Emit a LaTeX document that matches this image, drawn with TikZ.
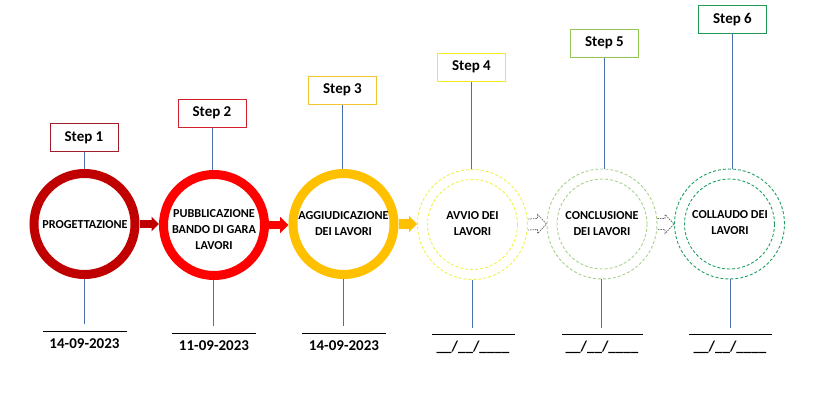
\documentclass[tikz,border=0pt]{standalone}
\usepackage{fontspec}
\setmainfont{Carlito}
\usetikzlibrary{arrows.meta,calc}
\definecolor{cdarkred}{HTML}{C00000}
\definecolor{cred}{HTML}{FF0000}
\definecolor{cgold}{HTML}{FFC000}
\definecolor{cyel}{HTML}{F0F050}
\definecolor{clgreen}{HTML}{A9D18E}
\definecolor{cgreen}{HTML}{1FA060}
\definecolor{bone}{HTML}{A11D2B}
\definecolor{btwo}{HTML}{D21F2E}
\definecolor{bthree}{HTML}{F2C530}
\definecolor{bfour}{HTML}{F2EA1A}
\definecolor{bfive}{HTML}{92C850}
\definecolor{bsix}{HTML}{1E9A55}
\definecolor{stemblue}{HTML}{4A6FB0}
\definecolor{harrow}{HTML}{6E6E6E}
\begin{document}
\begin{tikzpicture}[x=1pt,y=-1pt,
  ring/.style={circle, draw=#1, line width=9pt, minimum size=101pt, inner sep=0pt},
  dring/.style={circle, draw=#1, dash pattern=on 3pt off 2pt, line width=0.9pt, minimum size=110pt, inner sep=0pt},
  iring/.style={draw=#1, dash pattern=on 3pt off 2pt, line width=0.9pt},
  stepbox/.style={draw=#1, line width=1pt, minimum width=68pt, minimum height=28pt, inner sep=0pt, font=\fontsize{15}{18}\selectfont\bfseries},
  circtext/.style={align=center, inner sep=0pt, font=\fontsize{12.2}{16}\selectfont\bfseries},
  stem/.style={draw=stemblue, line width=0.9pt},
  dateline/.style={draw=black, line width=1pt},
  datetext/.style={anchor=base, inner sep=0pt, font=\fontsize{15}{18}\selectfont\bfseries},
  solidarrow/.style={draw=#1, line cap=butt},
  hollowarrow/.style={draw=harrow, line width=0.8pt, dash pattern=on 1.5pt off 1pt}
]
\useasboundingbox (0,0) rectangle (831,405);

% circles
\node[ring=cdarkred] (c1) at (84.5,224) {};
\node[ring=cred] (c2) at (214,225) {};
\node[ring=cgold] (c3) at (343.5,224) {};
\node[dring=cyel] (c4) at (472.5,224.5) {};
\node[dring=clgreen] (c5) at (602,224) {};
\node[dring=cgreen] (c6) at (729.5,224) {};
\draw[iring=cyel] (c4.center) circle[radius=45];
\draw[iring=clgreen] (c5.center) circle[radius=45];
\draw[iring=cgreen] (c6.center) circle[radius=45];

% circle texts
\node[circtext] (t1) at (85,225) {PROGETTAZIONE};
\node[circtext] (t2) at (214,230) {PUBBLICAZIONE\\BANDO DI GARA\\LAVORI};
\node[circtext] (t3) at (343.5,224) {AGGIUDICAZIONE\\DEI LAVORI};
\node[circtext] (t4) at (472.5,224) {AVVIO DEI\\LAVORI};
\node[circtext] (t5) at (602,224) {CONCLUSIONE\\DEI LAVORI};
\node[circtext] (t6) at (730,223) {COLLAUDO DEI\\LAVORI};

% step boxes
\node[stepbox=bone] (s1) at (84,137.5) {Step 1};
\node[stepbox=btwo] (s2) at (212,113) {Step 2};
\node[stepbox=bthree] (s3) at (342.5,90) {Step 3};
\node[stepbox=bfour] (s4) at (471.5,67) {Step 4};
\node[stepbox=bfive] (s5) at (604.5,43) {Step 5};
\node[stepbox=bsix] (s6) at (732.5,19.5) {Step 6};

% stems from boxes to circles
\draw[stem] (s1.south) -- (s1.south |- c1.north);
\draw[stem] (s2.south) -- (s2.south |- c2.north);
\draw[stem] (s3.south) -- (s3.south |- c3.north);
\draw[stem] (s4.south) -- (s4.south |- c4.north);
\draw[stem] (s5.south) -- (s5.south |- c5.north);
\draw[stem] (s6.south) -- (s6.south |- c6.north);

% stems down
\coordinate (b1) at (84.5,324);
\coordinate (b2) at (213.5,326);
\coordinate (b3) at (343.5,326);
\coordinate (b4) at (472.5,328);
\coordinate (b5) at (601.5,328);
\coordinate (b6) at (730,328);
\draw[stem] (b1 |- c1.south) -- (b1);
\draw[stem] (b2 |- c2.south) -- (b2);
\draw[stem] (b3 |- c3.south) -- (b3);
\draw[stem] (b4 |- c4.south) -- (b4);
\draw[stem] (b5 |- c5.south) -- (b5);
\draw[stem] (b6 |- c6.south) -- (b6);

% date lines
\coordinate (h1l) at (43,331);   \coordinate (h1r) at (127,331);
\coordinate (h2l) at (172,333);  \coordinate (h2r) at (256,333);
\coordinate (h3l) at (302,333);  \coordinate (h3r) at (386,333);
\coordinate (h4l) at (432,334);  \coordinate (h4r) at (515,334);
\coordinate (h5l) at (562,334);  \coordinate (h5r) at (643,334);
\coordinate (h6l) at (689,334);  \coordinate (h6r) at (772,334);
\draw[dateline] (h1l) -- (h1r);
\draw[dateline] (h2l) -- (h2r);
\draw[dateline] (h3l) -- (h3r);
\draw[dateline] (h4l) -- (h4r);
\draw[dateline] (h5l) -- (h5r);
\draw[dateline] (h6l) -- (h6r);

% dates
\node[datetext] (d1) at (84.5,348) {14-09-2023};
\node[datetext] (d2) at (214,350) {11-09-2023};
\node[datetext] (d3) at (344,350) {14-09-2023};
\node[datetext] (d4) at (473,351) {\_\_/\_\_/\_\_\_\_};
\node[datetext] (d5) at (602,351) {\_\_/\_\_/\_\_\_\_};
\node[datetext] (d6) at (730,351) {\_\_/\_\_/\_\_\_\_};

% solid arrows
\draw[solidarrow=cdarkred, line width=7.3pt, -{Triangle[length=7.5pt,width=14.4pt]}] (c1.east) -- (c1.east -| c2.west);
\draw[solidarrow=cred, line width=7.6pt, -{Triangle[length=8.3pt,width=15.6pt]}] (c2.east) -- (c2.east -| c3.west);
\draw[solidarrow=cgold, line width=9.3pt, -{Triangle[length=8pt,width=16pt]}] (c3.east) -- (c3.east -| c4.west);

% hollow dashed arrows
\draw[hollowarrow] ($(c4.east)+(0,-5.5)$) -- ($(c5.west)+(-9,-5.5)$) -- ($(c5.west)+(-9,-9.5)$) -- ($(c5.west)+(0,0)$) -- ($(c5.west)+(-9,9.5)$) -- ($(c5.west)+(-9,5.5)$) -- ($(c4.east)+(0,5.5)$);
\draw[hollowarrow] ($(c5.east)+(0,-5.5)$) -- ($(c6.west)+(-9,-5.5)$) -- ($(c6.west)+(-9,-9.5)$) -- ($(c6.west)+(0,0)$) -- ($(c6.west)+(-9,9.5)$) -- ($(c6.west)+(-9,5.5)$) -- ($(c5.east)+(0,5.5)$);
\end{tikzpicture}
\end{document}
